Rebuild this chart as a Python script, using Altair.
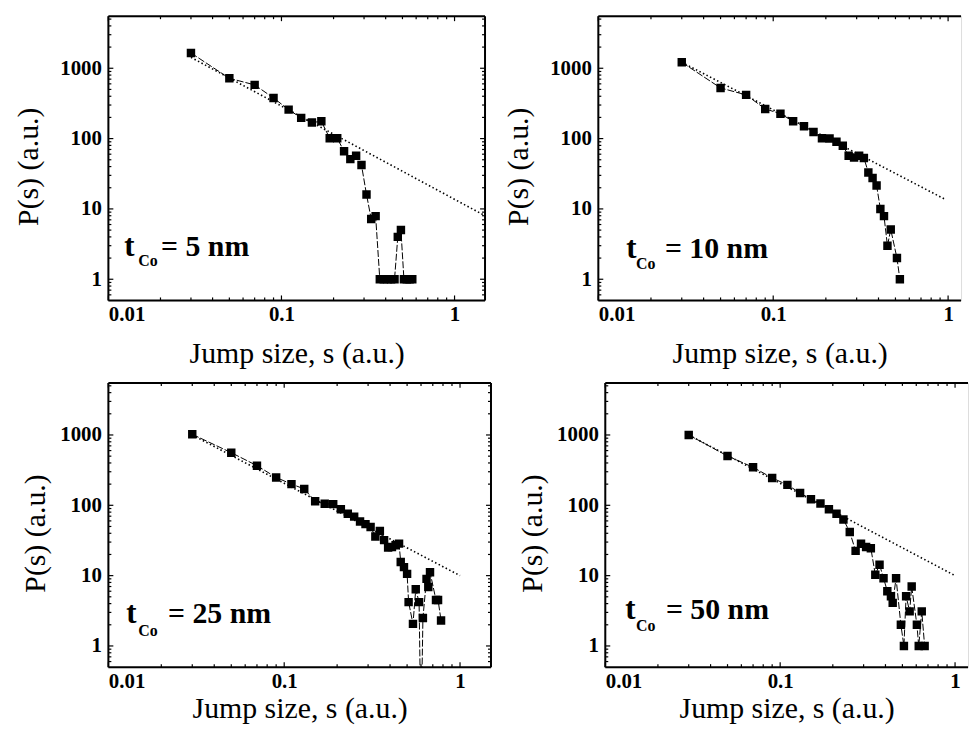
import altair as alt
import pandas as pd

# ---------------- data ----------------
x_5nm = [0.03, 0.05, 0.07, 0.09, 0.11, 0.13, 0.15, 0.17, 0.19, 0.21, 0.23, 0.25, 0.27, 0.29,
         0.31, 0.33, 0.35, 0.37, 0.39, 0.41, 0.43, 0.45, 0.47, 0.49, 0.51, 0.53, 0.55, 0.57]
y_5nm = [1650, 720, 580, 378, 258, 197, 169, 176, 101, 101, 66, 51, 57, 42,
         16, 7.2, 7.9, 1, 1, 1, 1, 1, 4, 5, 1, 1, 1, 1]

x_10nm = [0.03, 0.05, 0.07, 0.09, 0.11, 0.13, 0.15, 0.17, 0.19, 0.21, 0.23, 0.25, 0.27,
          0.29, 0.31, 0.33, 0.35, 0.37, 0.39, 0.41, 0.43, 0.45, 0.47, 0.51, 0.53]
y_10nm = [1217, 525, 418, 264, 226, 176, 150, 124, 101, 100, 90, 79, 57,
          54, 57, 53, 33, 27.6, 21.5, 10, 7.9, 3, 5.1, 2, 1]

x_25nm = [0.03, 0.05, 0.07, 0.09, 0.11, 0.13, 0.15, 0.17, 0.19, 0.21, 0.23, 0.25, 0.27, 0.29,
          0.31, 0.33, 0.35, 0.37, 0.39, 0.41, 0.43, 0.45, 0.46, 0.48, 0.50, 0.51, 0.54, 0.56,
          0.585, 0.60, 0.615, 0.645, 0.66, 0.675, 0.73, 0.75, 0.78]
y_25nm = [1022, 560, 366, 249, 200, 171, 114, 105, 104, 88, 76, 69, 59, 54,
          49, 36, 43, 32, 25, 25.5, 27, 28.5, 15.6, 13.2, 10.6, 4.2, 2.06, 6.4,
          4.2, 0, 2.5, 9, 6.9, 11.2, 4.5, 4.5, 2.3]

x_50nm = [0.03, 0.05, 0.07, 0.09, 0.11, 0.13, 0.15, 0.17, 0.19, 0.21, 0.23, 0.25, 0.27, 0.29,
          0.31, 0.33, 0.35, 0.37, 0.39, 0.41, 0.43, 0.44, 0.46, 0.49, 0.51, 0.525, 0.55,
          0.565, 0.605, 0.62, 0.645, 0.67]
y_50nm = [1000, 503, 347, 245, 195, 150, 122, 106, 88, 76, 63, 41.6, 22.5, 28.4,
          25.5, 24.5, 10.3, 14.3, 9.2, 6.0, 5.1, 4.1, 9.2, 2.0, 1, 5.1, 3.1,
          7.0, 2.0, 1, 3.1, 1]

# power-law fits (dotted lines), end points
fit_x = {"5": [0.03, 1.5], "10": [0.03, 0.95], "25": [0.03, 1.0], "50": [0.03, 1.0]}
fit_y = {"5": [1430, 8], "10": [1217, 13.9], "25": [1000, 10], "50": [1000, 10]}

thickness_labels = ["5", "10", "25", "50"]

x_major = [0.01, 0.1, 1]
x_minor = [0.02, 0.03, 0.04, 0.05, 0.06, 0.07, 0.08, 0.09,
           0.2, 0.3, 0.4, 0.5, 0.6, 0.7, 0.8, 0.9]
y_major = [1, 10, 100, 1000]
y_minor = [0.6, 0.7, 0.8, 0.9, 2, 3, 4, 5, 6, 7, 8, 9, 20, 30, 40, 50, 60, 70, 80, 90,
           200, 300, 400, 500, 600, 700, 800, 900, 2000, 3000, 4000, 5000]

# ---------------- styling ----------------
FONT = "Liberation Serif, Times New Roman, DejaVu Serif, serif"
H = 286
Y_DOMAIN = [0.5, 5500]


def panel(xs, ys, fx, fy, label, width, xmax, right_frame, ann, ytp, xtp):
    xsc = alt.Scale(type="log", domain=[0.01, xmax], nice=False)
    ysc = alt.Scale(type="log", domain=Y_DOMAIN, nice=False)
    xax = alt.Axis(values=x_major, format="~g", ticks=False, tickSize=0, domain=False,
                   grid=False, labelFont=FONT, labelFontSize=21, labelFontWeight="bold",
                   labelColor="black", labelPadding=3, title="Jump size, s (a.u.)",
                   titleFont=FONT, titleFontSize=30, titleFontWeight="normal",
                   titleColor="black", titlePadding=xtp)
    yax = alt.Axis(values=y_major, format="~g", ticks=False, tickSize=0, domain=False,
                   grid=False, labelFont=FONT, labelFontSize=21, labelFontWeight="bold",
                   labelColor="black", labelPadding=7, title="P(s) (a.u.)", titleFont=FONT,
                   titleFontSize=30, titleFontWeight="normal", titleColor="black",
                   titlePadding=ytp, titleY=H / 2 + 8)
    X = alt.X("x:Q", scale=xsc, axis=xax)
    Y = alt.Y("y:Q", scale=ysc, axis=yax)

    d = pd.DataFrame({"x": xs, "y": ys})
    base = alt.Chart(d).transform_calculate(y="max(datum.y, 0.05)")
    line = base.mark_line(color="black", strokeWidth=1.0, strokeDash=[7, 2], clip=True).encode(x=X, y=Y)
    pts = base.mark_square(color="black", size=72, opacity=1, clip=True).encode(x=X, y=Y)
    fit = alt.Chart(pd.DataFrame({"x": fx, "y": fy})).mark_line(
        color="black", strokeWidth=1.6, strokeDash=[1.5, 2.5], clip=True).encode(x=X, y=Y)

    xmaj = pd.DataFrame({"x": [v for v in x_major if v <= xmax]})
    xmin = pd.DataFrame({"x": [v for v in x_minor if v <= xmax]})
    ymaj = pd.DataFrame({"y": y_major})
    ymin = pd.DataFrame({"y": y_minor})
    layers = [line, fit, pts]
    for df, ln in ((xmaj, 5), (xmin, 3)):
        layers.append(alt.Chart(df).mark_rule(color="black", strokeWidth=1.2).encode(
            x=X, y=alt.value(H), y2=alt.value(H - ln)))
        layers.append(alt.Chart(df).mark_rule(color="black", strokeWidth=1.2).encode(
            x=X, y=alt.value(0), y2=alt.value(ln)))
    for df, ln in ((ymaj, 5), (ymin, 3)):
        layers.append(alt.Chart(df).mark_rule(color="black", strokeWidth=1.2).encode(
            y=Y, x=alt.value(0), x2=alt.value(ln)))
        if right_frame:
            layers.append(alt.Chart(df).mark_rule(color="black", strokeWidth=1.2).encode(
                y=Y, x=alt.value(width), x2=alt.value(width - ln)))
    one = pd.DataFrame({"k": [0]})
    fr = alt.Chart(one).mark_rule(color="black", strokeWidth=2)
    layers.append(fr.encode(x=alt.value(0), x2=alt.value(width), y=alt.value(0)))
    layers.append(fr.encode(x=alt.value(0), x2=alt.value(width), y=alt.value(H)))
    layers.append(fr.encode(x=alt.value(0), y=alt.value(0), y2=alt.value(H)))
    if right_frame:
        layers.append(fr.encode(x=alt.value(width), y=alt.value(0), y2=alt.value(H)))

    tx, ty, cx, cy, rx = ann
    txt = alt.Chart(one)
    layers.append(txt.mark_text(text="t", font=FONT, fontSize=31, fontWeight="bold",
                                align="left", baseline="alphabetic", color="black").encode(
        x=alt.value(tx), y=alt.value(ty)))
    layers.append(txt.mark_text(text="Co", font=FONT, fontSize=16, fontWeight="bold",
                                align="left", baseline="alphabetic", color="black").encode(
        x=alt.value(cx), y=alt.value(cy)))
    layers.append(txt.mark_text(text="= " + label + " nm", font=FONT, fontSize=30,
                                fontWeight="bold", align="left", baseline="alphabetic",
                                color="black").encode(x=alt.value(rx), y=alt.value(ty)))
    return alt.layer(*layers).properties(width=width, height=H)


p1 = panel(x_5nm, y_5nm, fit_x["5"], fit_y["5"], thickness_labels[0], 379, 1.5, True,
           (16, 241, 30, 251, 53), 16, 14)
p2 = panel(x_10nm, y_10nm, fit_x["10"], fit_y["10"], thickness_labels[1], 365, 1.186, False,
           (28, 243, 38, 254, 67), 16, 14)
p3 = panel(x_25nm, y_25nm, fit_x["25"], fit_y["25"], thickness_labels[2], 385, 1.5, True,
           (18, 242, 30, 255, 60), 9, 3)
p4 = panel(x_50nm, y_50nm, fit_x["50"], fit_y["50"], thickness_labels[3], 365, 1.186, False,
           (20, 238, 31, 250, 61), 9, 3)

row1 = alt.hconcat(p1, p2, spacing=16)
row2 = alt.hconcat(p3, p4, spacing=24)
chart = alt.vconcat(row1, row2, spacing=12).configure_view(stroke=None).configure(
    padding={"left": 5, "top": 4, "right": 0, "bottom": 0}, background="white")

chart.save("out.html", embed_options={"renderer": "svg", "actions": False})
